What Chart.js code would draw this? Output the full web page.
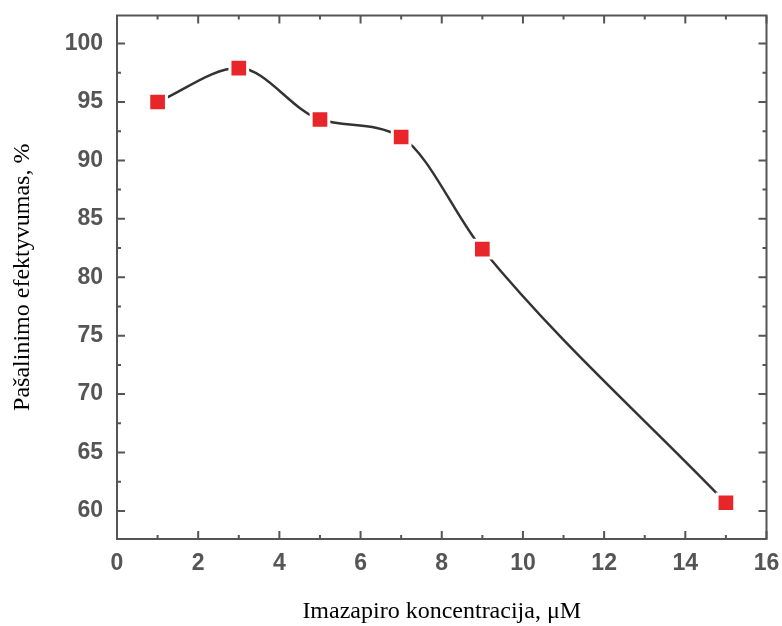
<!DOCTYPE html>
<html>
<head>
<meta charset="utf-8">
<script src="https://cdn.jsdelivr.net/npm/chart.js@4.4.1/dist/chart.umd.min.js"></script>
<style>
  html, body { margin: 0; padding: 0; background: #fff; }
  #wrap { width: 782px; height: 626px; }
</style>
</head>
<body>
<div id="wrap"><canvas id="chart" width="782" height="626"></canvas></div>
<script>
// data
const concentration = [1, 3, 5, 7, 9, 15];
const efficiency = [95.0, 97.9, 93.5, 92.0, 82.4, 60.7];

const xTickValues = [0, 2, 4, 6, 8, 10, 12, 14, 16];
const xMinorTicks = [1, 3, 5, 7, 9, 11, 13, 15];
const yTickValues = [60, 65, 70, 75, 80, 85, 90, 95, 100];
const yMinorTicks = [62.5, 67.5, 72.5, 77.5, 82.5, 87.5, 92.5, 97.5];

const axisColor = '#555';

// frame + inward ticks on all four sides (Origin style)
const frameTicks = {
  id: 'frameTicks',
  beforeDatasetsDraw(chart) {
    const { ctx, chartArea: a, scales: { x, y } } = chart;
    ctx.save();
    ctx.strokeStyle = axisColor;
    ctx.lineWidth = 2;
    ctx.beginPath();
    const vTick = (v, len) => {
      const px = x.getPixelForValue(v);
      ctx.moveTo(px, a.bottom); ctx.lineTo(px, a.bottom - len);
      ctx.moveTo(px, a.top); ctx.lineTo(px, a.top + len);
    };
    const hTick = (v, len) => {
      const py = y.getPixelForValue(v);
      ctx.moveTo(a.left, py); ctx.lineTo(a.left + len, py);
      ctx.moveTo(a.right, py); ctx.lineTo(a.right - len, py);
    };
    xTickValues.forEach(v => vTick(v, 8));
    xMinorTicks.forEach(v => vTick(v, 4));
    yTickValues.forEach(v => hTick(v, 8));
    yMinorTicks.forEach(v => hTick(v, 4));
    ctx.stroke();
    ctx.strokeRect(a.left, a.top, a.right - a.left, a.bottom - a.top);
    ctx.restore();
  }
};

const tickFont = { family: '"Liberation Sans", Arial, sans-serif', size: 23, weight: 'bold' };
const titleFont = { family: '"Liberation Serif", "Times New Roman", serif', size: 24 };

new Chart(document.getElementById('chart'), {
  type: 'line',
  data: {
    datasets: [{
      data: concentration.map((c, i) => ({ x: c, y: efficiency[i] })),
      borderColor: '#333',
      borderWidth: 2.5,
      cubicInterpolationMode: 'monotone',
      pointStyle: 'rect',
      pointRadius: 12.5,
      pointBackgroundColor: '#e8262a',
      pointBorderColor: '#fff',
      pointBorderWidth: 3,
      clip: false
    }]
  },
  options: {
    responsive: false,
    devicePixelRatio: 1,
    animation: false,
    layout: { padding: { top: 13, right: 13, left: 0, bottom: 0 } },
    plugins: { legend: { display: false }, tooltip: { enabled: false } },
    scales: {
      x: {
        type: 'linear',
        min: 0,
        max: 16,
        grid: { display: false, drawTicks: false },
        border: { display: false },
        afterBuildTicks: s => { s.ticks = xTickValues.map(v => ({ value: v })); },
        afterFit: s => { s.height = 87; s.paddingLeft = 0; s.paddingRight = 0; },
        ticks: { color: axisColor, font: tickFont, padding: 11, maxRotation: 0 },
        title: {
          display: true,
          text: 'Imazapiro koncentracija, μM',
          color: '#000',
          font: titleFont,
          padding: { top: 0, bottom: 0 }
        }
      },
      y: {
        min: 57.6,
        max: 102.4,
        grid: { display: false, drawTicks: false },
        border: { display: false },
        afterBuildTicks: s => { s.ticks = yTickValues.map(v => ({ value: v })); },
        afterFit: s => { s.width = 117; s.paddingTop = 0; s.paddingBottom = 0; },
        ticks: { color: axisColor, font: tickFont, padding: 14 },
        title: {
          display: true,
          text: 'Pašalinimo efektyvumas, %',
          color: '#000',
          font: titleFont,
          padding: { top: 8, bottom: 0 }
        }
      }
    }
  },
  plugins: [frameTicks]
});
</script>
</body>
</html>
